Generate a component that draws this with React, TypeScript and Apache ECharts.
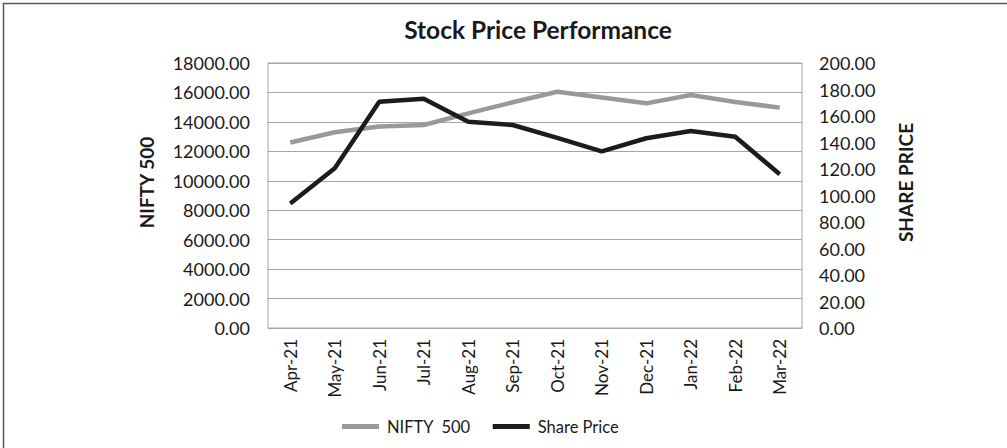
import React, { useEffect, useRef } from "react";
import * as echarts from "echarts";

const months = ["Apr-21", "May-21", "Jun-21", "Jul-21", "Aug-21", "Sep-21", "Oct-21", "Nov-21", "Dec-21", "Jan-22", "Feb-22", "Mar-22"];
const nifty500 = [12600, 13300, 13680, 13790, 14580, 15330, 16050, 15650, 15260, 15830, 15350, 14970];
const sharePrice = [94, 120.5, 170.8, 173, 155.7, 153.2, 143.5, 133.3, 143.2, 148.7, 144.4, 116];
const leftTicks = { min: 0, max: 18000, interval: 2000 };
const rightTicks = { min: 0, max: 200, interval: 20 };

const FONT = "Lato";

export default function App() {
  const ref = useRef<HTMLDivElement>(null);
  useEffect(() => {
    document.body.style.margin = "0";
    const chart = echarts.init(ref.current!, null, { renderer: "svg" });
    chart.setOption({
      animation: false,
      backgroundColor: "#ffffff",
      textStyle: { fontFamily: FONT },
      title: {
        text: "Stock Price Performance",
        left: 533,
        top: 12,
        textAlign: "center",
        textStyle: { fontFamily: FONT, fontWeight: "bold", fontSize: 24.5, color: "#1a1a1a" },
      },
      graphic: [
        {
          type: "rect",
          shape: { x: 3.5, y: 3.5, width: 1100, height: 600 },
          style: { fill: "none", stroke: "#595959", lineWidth: 1.5 },
          silent: true,
          z: -1,
        },
      ],
      grid: {
        left: 268,
        right: 205,
        top: 63,
        bottom: 120,
        show: true,
        borderColor: "#a6a6a6",
        borderWidth: 1,
        containLabel: false,
      },
      legend: {
        left: 337,
        top: 413,
        itemWidth: 37,
        itemHeight: 5,
        itemGap: 22,
        icon: "rect",
        textStyle: { fontFamily: FONT, fontSize: 16.5, color: "#1a1a1a", padding: [0, 0, 0, 3] },
        data: ["NIFTY  500", "Share Price"],
      },
      xAxis: {
        type: "category",
        data: months,
        boundaryGap: true,
        axisLine: { show: true, lineStyle: { color: "#a6a6a6", width: 1 } },
        axisTick: { show: false },
        axisLabel: { rotate: 90, margin: 11, fontFamily: FONT, fontSize: 17, color: "#1a1a1a" },
        splitLine: { show: false },
      },
      yAxis: [
        {
          type: "value",
          ...leftTicks,
          name: "NIFTY 500",
          nameLocation: "middle",
          nameGap: 112,
          nameRotate: 90,
          nameTextStyle: { fontFamily: FONT, fontWeight: "bold", fontSize: 19, color: "#1a1a1a", padding: [0, 0, 0, 26] },
          axisLine: { show: false },
          axisTick: { show: false },
          axisLabel: {
            margin: 18,
            fontFamily: FONT,
            fontSize: 18,
            color: "#1a1a1a",
            formatter: (v: number) => v.toFixed(2),
          },
          splitLine: { show: true, lineStyle: { color: "#a6a6a6", width: 1 } },
        },
        {
          type: "value",
          ...rightTicks,
          name: "SHARE PRICE",
          nameLocation: "middle",
          nameGap: 94,
          nameRotate: 90,
          nameTextStyle: { fontFamily: FONT, fontWeight: "bold", fontSize: 19, color: "#1a1a1a", padding: [0, 0, 0, 26] },
          axisLine: { show: false },
          axisTick: { show: false },
          axisLabel: {
            margin: 17,
            fontFamily: FONT,
            fontSize: 18,
            color: "#1a1a1a",
            formatter: (v: number) => v.toFixed(2),
          },
          splitLine: { show: false },
        },
      ],
      series: [
        {
          name: "NIFTY  500",
          type: "line",
          yAxisIndex: 0,
          data: nifty500,
          symbol: "none",
          lineStyle: { color: "#999999", width: 4.5 },
          itemStyle: { color: "#999999" },
        },
        {
          name: "Share Price",
          type: "line",
          yAxisIndex: 1,
          data: sharePrice,
          symbol: "none",
          lineStyle: { color: "#1c1c1c", width: 4.5 },
          itemStyle: { color: "#1c1c1c" },
        },
      ],
    });
    return () => chart.dispose();
  }, []);
  return <div ref={ref} style={{ width: 1007, height: 448 }} />;
}
